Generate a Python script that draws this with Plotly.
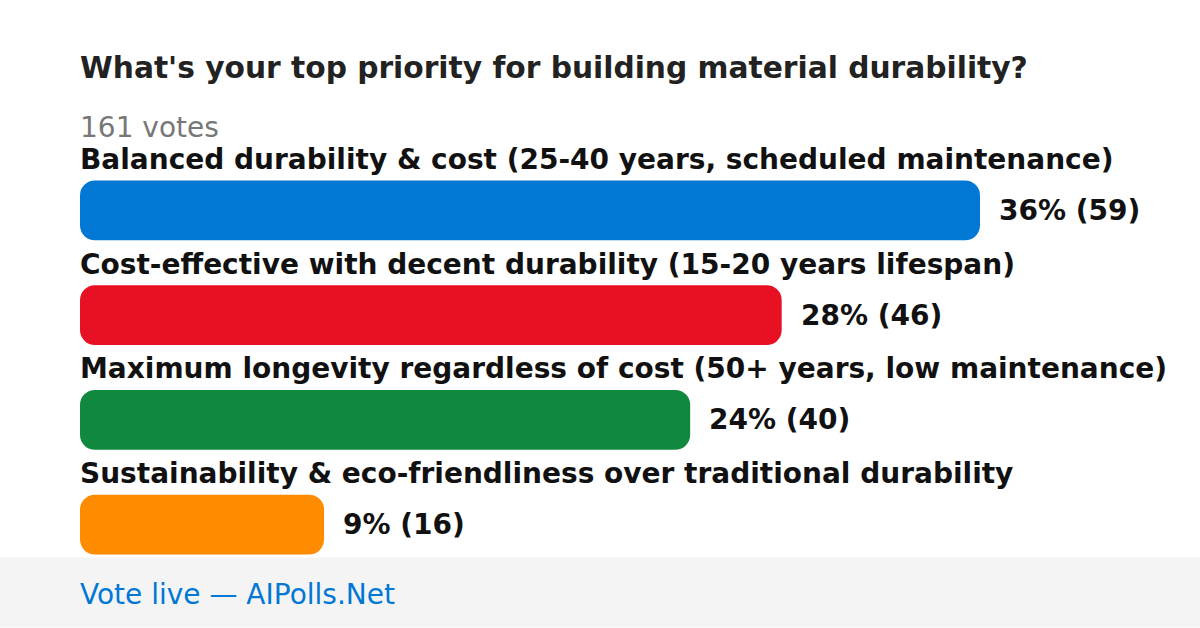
import plotly.graph_objects as go

title = "What's your top priority for building material durability?"
total_votes = "161 votes"
options = [
    "Balanced durability & cost (25-40 years, scheduled maintenance)",
    "Cost-effective with decent durability (15-20 years lifespan)",
    "Maximum longevity regardless of cost (50+ years, low maintenance)",
    "Sustainability & eco-friendliness over traditional durability",
]
votes = [59, 46, 40, 16]
percents = [36, 28, 24, 9]
colors = ["#0078d4", "#e81123", "#10893e", "#ff8c00"]
footer = "Vote live — AIPolls.Net"

W, H = 1200, 628
ML, MR = 80, 0
plot_w = W - ML - MR
max_bar_px = 900
xmax = max(votes) * plot_w / max_bar_px

top_px = 157.5
bot_px = top_px + 105 * len(options)
plot_h = bot_px - top_px


def px_x(px):
    return (px - ML) / plot_w


def px_y(py):
    return (bot_px - py) / plot_h


ypos = list(range(len(options)))

fig = go.Figure()
fig.add_trace(go.Bar(
    x=votes, base=[0] * len(votes), y=ypos, orientation="h",
    marker=dict(color=colors, line=dict(width=0)),
    width=60 / 105, hoverinfo="skip",
))

FONT = "DejaVu Sans"
annotations = []
for i, (lab, v, p) in enumerate(zip(options, votes, percents)):
    annotations.append(dict(
        x=0, y=i, xref="x", yref="y", text=f"<b>{lab}</b>", showarrow=False,
        xanchor="left", yanchor="middle", yshift=51, xshift=-2,
        font=dict(family=FONT, size=28, color="#111111"),
    ))
    annotations.append(dict(
        x=v, y=i, xref="x", yref="y", text=f"<b>{p}% ({v})</b>", showarrow=False,
        xanchor="left", yanchor="middle", xshift=17,
        font=dict(family=FONT, size=28, color="#111111"),
    ))

annotations.append(dict(
    x=px_x(80), y=px_y(127), xref="paper", yref="paper", text=total_votes,
    showarrow=False, xanchor="left", yanchor="middle", xshift=-2,
    font=dict(family=FONT, size=28, color="#777777"),
))
annotations.append(dict(
    x=px_x(80), y=px_y(595), xref="paper", yref="paper", text=footer,
    showarrow=False, xanchor="left", yanchor="middle", xshift=-2,
    font=dict(family=FONT, size=28, color="#0078d4"),
))

fig.update_layout(
    width=W, height=H,
    margin=dict(l=ML, r=MR, t=top_px, b=H - bot_px, pad=0),
    paper_bgcolor="white", plot_bgcolor="white",
    barmode="overlay",
    barcornerradius=15,
    showlegend=False,
    title=dict(text=f"<b>{title}</b>", x=80 / W, xref="container", xanchor="left",
               y=1 - 68 / H, yref="container", yanchor="middle",
               font=dict(family=FONT, size=29.7, color="#222222")),
    xaxis=dict(range=[0, xmax], visible=False, fixedrange=True),
    yaxis=dict(range=[len(options) - 0.5, -0.5], visible=False, fixedrange=True),
    annotations=annotations,
    shapes=[dict(type="rect", xref="paper", yref="paper",
                 x0=px_x(0), x1=px_x(W),
                 y0=px_y(H), y1=px_y(558),
                 fillcolor="#f4f4f4", line=dict(width=0), layer="below")],
)

fig.write_html("out.html", config={"displayModeBar": False},
               post_script="document.body.style.margin='0px';")
